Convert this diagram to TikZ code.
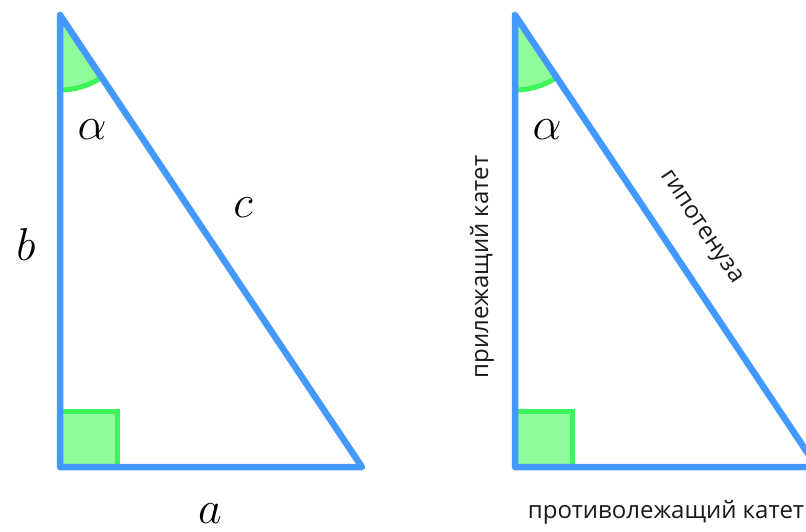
\RequirePackage{fix-cm}
\documentclass[tikz,border=0pt]{standalone}
\usepackage{fontspec}
\newfontfamily\rufont{Open Sans}
\definecolor{triblue}{HTML}{4499FF}
\definecolor{angfill}{HTML}{8FFB9B}
\definecolor{angline}{HTML}{3DF55A}
\begin{document}
\begin{tikzpicture}[x=1pt,y=-1pt,
  side/.style={draw=triblue,line width=6.5pt,line join=round,line cap=round},
  rightang/.style={fill=angfill,draw=angline,line width=5pt},
  angarc/.style={draw=angline,line width=5pt},
  angfillst/.style={fill=angfill},
  mathlbl/.style={font=\fontsize{46}{50}\selectfont,inner sep=0pt},
  rulbl/.style={font=\rufont\fontsize{24}{28}\selectfont,text=black!90,inner sep=0pt}]
\useasboundingbox (0,0) rectangle (806,532);
\clip (0,0) rectangle (806,532);
% left triangle
\coordinate (A1) at (60,15);
\coordinate (C1) at (60,467);
\coordinate (B1) at (362,467);
\fill[angfillst] (A1) -- ++(0,75) arc[start angle=90,end angle=56.25,radius=75] -- cycle;
\draw[angarc] (A1) ++(0,75) arc[start angle=90,end angle=56.25,radius=75];
\draw[rightang] (C1) rectangle ++(57,-56);
\draw[side] (A1) -- (C1) -- (B1) -- cycle;
\node[mathlbl] (al1) at (92,130) {$\alpha$};
\node[mathlbl] (c1) at (243,208) {$c$};
\node[mathlbl] (b1) at (26,245) {$b$};
\node[mathlbl] (a1) at (210,514) {$a$};
% right triangle
\coordinate (A2) at (515,15);
\coordinate (C2) at (515,467);
\coordinate (B2) at (817,467);
\fill[angfillst] (A2) -- ++(0,75) arc[start angle=90,end angle=56.25,radius=75] -- cycle;
\draw[angarc] (A2) ++(0,75) arc[start angle=90,end angle=56.25,radius=75];
\draw[rightang] (C2) rectangle ++(57,-56);
\draw[side] (A2) -- (C2) -- (B2) -- cycle;
\node[mathlbl] (al2) at (547,130) {$\alpha$};
\node[rulbl,rotate=90] (adj) at (482,267) {прилежащий катет};
\node[rulbl,rotate=-56.25] (hyp) at (700,228) {гипотенуза};
\node[rulbl] (opp) at (666,512) {противолежащий катет};
\end{tikzpicture}
\end{document}
